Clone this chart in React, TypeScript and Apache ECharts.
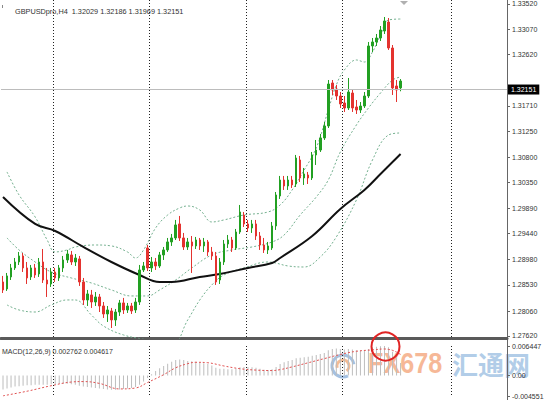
import React, { useEffect, useRef } from "react";
import * as echarts from "echarts";

const symbolName = "GBPUSDpro,H4";

const openP = [
  1.28580, 1.28455, 1.28669, 1.28829, 1.28935, 1.29042, 1.28829, 1.28669, 1.28829, 1.28722,
  1.28935, 1.28615, 1.28544, 1.28757, 1.28651, 1.28829, 1.28971, 1.29060, 1.28935, 1.28989,
  1.28580, 1.28260, 1.28349, 1.28224, 1.28313, 1.28153, 1.28011, 1.28064, 1.27905, 1.28046,
  1.28207, 1.28082, 1.28153, 1.28082, 1.28224, 1.28793, 1.29184, 1.28829, 1.28935, 1.28864,
  1.29060, 1.29149, 1.29291, 1.29362, 1.29611, 1.29362, 1.29202, 1.29291, 1.29220, 1.29326,
  1.29220, 1.29291, 1.29113, 1.29042, 1.28615, 1.28935, 1.29255, 1.29326, 1.29184, 1.29468,
  1.29770, 1.29611, 1.29539, 1.29611, 1.29397, 1.29237, 1.29149, 1.29184, 1.29575, 1.30108,
  1.30392, 1.30286, 1.30392, 1.30321, 1.30748, 1.30428, 1.30481, 1.30428, 1.30837, 1.30925,
  1.31139, 1.31352, 1.32116, 1.32009, 1.31885, 1.31761, 1.31672, 1.31938, 1.31690, 1.31636,
  1.31707, 1.31885, 1.32774, 1.32845, 1.32916, 1.33040, 1.33200, 1.32738, 1.32063, 1.32029,
];

const closeP = [
  1.28438, 1.28687, 1.28829, 1.28935, 1.29042, 1.28829, 1.28651, 1.28829, 1.28704, 1.28935,
  1.28615, 1.28544, 1.28757, 1.28651, 1.28829, 1.28971, 1.29077, 1.28935, 1.29006, 1.28580,
  1.28260, 1.28367, 1.28224, 1.28313, 1.28153, 1.28011, 1.28082, 1.27905, 1.28046, 1.28207,
  1.28082, 1.28153, 1.28064, 1.28224, 1.28793, 1.28864, 1.28829, 1.28935, 1.28864, 1.29060,
  1.29149, 1.29291, 1.29362, 1.29593, 1.29362, 1.29202, 1.29291, 1.29220, 1.29326, 1.29220,
  1.29291, 1.29113, 1.29042, 1.28580, 1.28935, 1.29255, 1.29326, 1.29184, 1.29468, 1.29824,
  1.29611, 1.29539, 1.29611, 1.29397, 1.29237, 1.29149, 1.29220, 1.29575, 1.30126, 1.30392,
  1.30286, 1.30392, 1.30304, 1.30783, 1.30428, 1.30499, 1.30428, 1.30837, 1.30925, 1.31139,
  1.31352, 1.32098, 1.31992, 1.31885, 1.31743, 1.31672, 1.31956, 1.31672, 1.31636, 1.31707,
  1.31885, 1.32774, 1.32845, 1.32916, 1.33058, 1.33218, 1.32738, 1.32027, 1.31992, 1.32151,
];

const highP = [
  1.28687, 1.28740, 1.28900, 1.29006, 1.29113, 1.29095, 1.28935, 1.28882, 1.28900, 1.29006,
  1.29166, 1.28829, 1.28829, 1.28829, 1.28882, 1.29042, 1.29149, 1.29131, 1.29077, 1.29042,
  1.28651, 1.28438, 1.28438, 1.28402, 1.28367, 1.28224, 1.28153, 1.28118, 1.28100, 1.28260,
  1.28296, 1.28207, 1.28207, 1.28296, 1.28882, 1.28935, 1.29237, 1.29024, 1.29006, 1.29113,
  1.29202, 1.29362, 1.29433, 1.29682, 1.29753, 1.29451, 1.29362, 1.29397, 1.29380, 1.29362,
  1.29362, 1.29326, 1.29202, 1.29113, 1.29006, 1.29326, 1.29415, 1.29380, 1.29522, 1.29948,
  1.29824, 1.29682, 1.29682, 1.29682, 1.29468, 1.29362, 1.29291, 1.29646, 1.30179, 1.30464,
  1.30464, 1.30464, 1.30464, 1.30837, 1.30819, 1.30606, 1.30535, 1.30890, 1.31103, 1.31210,
  1.31423, 1.32169, 1.32169, 1.32081, 1.31956, 1.31885, 1.32205, 1.31992, 1.31814, 1.31778,
  1.31956, 1.32845, 1.32916, 1.32987, 1.33129, 1.33289, 1.33271, 1.32791, 1.32169, 1.32186,
];

const lowP = [
  1.28384, 1.28420, 1.28615, 1.28793, 1.28882, 1.28757, 1.28544, 1.28615, 1.28651, 1.28669,
  1.28562, 1.28313, 1.28491, 1.28580, 1.28598, 1.28757, 1.28918, 1.28882, 1.28864, 1.28509,
  1.28171, 1.28153, 1.28118, 1.28153, 1.28046, 1.27940, 1.27869, 1.27762, 1.27798, 1.27976,
  1.28011, 1.28029, 1.28011, 1.28029, 1.28171, 1.28757, 1.28775, 1.28757, 1.28793, 1.28829,
  1.28971, 1.29113, 1.29220, 1.29326, 1.29308, 1.29149, 1.29149, 1.28740, 1.29166, 1.29149,
  1.29113, 1.29042, 1.28971, 1.28527, 1.28544, 1.28882, 1.29184, 1.29113, 1.29149, 1.29433,
  1.29557, 1.29468, 1.29451, 1.29326, 1.29149, 1.29095, 1.29077, 1.29149, 1.29504, 1.30055,
  1.30215, 1.30215, 1.30250, 1.30268, 1.30357, 1.30304, 1.30321, 1.30392, 1.30659, 1.30890,
  1.31103, 1.31316, 1.31903, 1.31814, 1.31672, 1.31601, 1.31636, 1.31601, 1.31565, 1.31583,
  1.31672, 1.31850, 1.32667, 1.32774, 1.32862, 1.32987, 1.32703, 1.31903, 1.31778, 1.31969,
];

// Moving average (sampled points: [bar index, price])
const maLine: [number, number][] = [
  [0, 1.3009], [8, 1.29611], [13, 1.29486], [20, 1.29202], [27, 1.28935], [34, 1.28704],
  [39, 1.2858], [42, 1.2858], [49, 1.28669], [54, 1.28722], [61, 1.28829], [67, 1.28918],
  [69, 1.29006], [77, 1.29397], [84, 1.29877], [90, 1.30215], [94, 1.30499], [99, 1.30854],
];

// Bollinger bands (sampled points)
const bbUpper: [number, number][] = [
  [1, 1.30535], [4, 1.30126], [8, 1.29735], [11, 1.29326], [13, 1.29113], [16, 1.29149],
  [18, 1.29202], [23, 1.29237], [27, 1.2922], [31, 1.29113], [33, 1.29006], [35, 1.29149],
  [38, 1.29539], [41, 1.2977], [44, 1.29895], [46, 1.2993], [49, 1.29859], [52, 1.29646],
  [55, 1.29682], [60, 1.2977], [66, 1.29824], [69, 1.29948], [72, 1.30215], [75, 1.3057],
  [78, 1.30961], [81, 1.31636], [83, 1.32081], [85, 1.32347], [88, 1.32525], [90, 1.32489],
  [92, 1.32667], [94, 1.32969], [96, 1.33236], [99, 1.33253],
];
const bbMiddle: [number, number][] = [
  [1, 1.29362], [4, 1.29149], [8, 1.28935], [12, 1.28757], [17, 1.28651], [22, 1.28562],
  [27, 1.28438], [32, 1.28331], [36, 1.28331], [39, 1.28438], [43, 1.28615], [47, 1.28829],
  [52, 1.2906], [57, 1.29149], [62, 1.29202], [67, 1.29291], [70, 1.29415], [74, 1.2977],
  [78, 1.3009], [81, 1.30392], [84, 1.3089], [88, 1.3137], [91, 1.31672], [94, 1.31938],
  [97, 1.32169], [99, 1.32223],
];
const bbLower: [number, number][] = [
  [1, 1.28171], [4, 1.28082], [8, 1.28046], [12, 1.28171], [16, 1.2826], [18, 1.2826],
  [22, 1.27993], [25, 1.27798], [30, 1.27638], [36, 1.27549], [42, 1.2746], [46, 1.27905],
  [49, 1.2826], [52, 1.28527], [55, 1.28704], [60, 1.28829], [66, 1.28935], [71, 1.28864],
  [75, 1.28846], [79, 1.29024], [83, 1.2938], [88, 1.30037], [92, 1.30748], [96, 1.31192],
  [99, 1.31228],
];

const macdMain = [
  -0.0030, -0.0028, -0.0026, -0.0024, -0.0023, -0.0022, -0.0021, -0.0021, -0.0020, -0.0020,
  -0.0020, -0.0020, -0.0019, -0.0019, -0.0018, -0.0018, -0.0018, -0.0019, -0.0020, -0.0022,
  -0.0024, -0.0025, -0.0026, -0.0027, -0.0028, -0.0029, -0.0030, -0.0031, -0.0031, -0.0030,
  -0.0029, -0.0028, -0.0027, -0.0025, -0.0020, -0.0013, -0.0005, 0.0003, 0.0010, 0.0016,
  0.0021, 0.0026, 0.0030, 0.0034, 0.0035, 0.0034, 0.0032, 0.0031, 0.0030, 0.0029,
  0.0027, 0.0025, 0.0022, 0.0017, 0.0015, 0.0015, 0.0014, 0.0014, 0.0015, 0.0018,
  0.0019, 0.0019, 0.0018, 0.0017, 0.0015, 0.0013, 0.0012, 0.0014, 0.0019, 0.0025,
  0.0029, 0.0032, 0.0034, 0.0038, 0.0039, 0.0040, 0.0041, 0.0043, 0.0045, 0.0047,
  0.0049, 0.0055, 0.0058, 0.0059, 0.0058, 0.0057, 0.0058, 0.0057, 0.0055, 0.0054,
  0.0054, 0.0058, 0.0061, 0.0063, 0.0064, 0.00645, 0.0062, 0.0052, 0.0040, 0.002762,
];
const macdSignal: [number, number][] = [
  [0, -0.0044], [6, -0.0034], [12, -0.0022], [17, -0.0014], [20, -0.0013], [24, -0.0017],
  [29, -0.0029], [33, -0.0027], [36, -0.0015], [40, 0.0002], [43, 0.0017], [46, 0.0026],
  [48, 0.0029], [51, 0.0028], [55, 0.0021], [59, 0.0015], [63, 0.0012], [67, 0.0011],
  [69, 0.0013], [72, 0.0019], [76, 0.0028], [80, 0.0037], [84, 0.0046], [88, 0.0053],
  [92, 0.0056], [95, 0.0058], [96, 0.0057], [97, 0.0055], [98, 0.0051], [99, 0.004617],
];

const priceTicks = [1.3352, 1.3307, 1.3262, 1.3171, 1.3125, 1.308, 1.3035, 1.2989, 1.2944, 1.2898, 1.2853, 1.2806, 1.2762];
const macdTicks = [0.006447, 0, -0.004551];
const gridLineIdx = [13, 37, 61, 85, 112];
const categories = Array.from({ length: 126 }, (_, i) => String(i));

const FONT = '"Liberation Sans", Arial, sans-serif';

export default function App() {
  const ref = useRef<HTMLDivElement>(null);
  useEffect(() => {
    const chart = echarts.init(ref.current!, null, { renderer: "svg" });
    const n = closeP.length;
    const candles = closeP.map((c, i) => [openP[i], c, lowP[i], highP[i]]);
    const last = n - 1;
    const headText = `${symbolName}  ${openP[last].toFixed(5)} ${highP[last].toFixed(5)} ${lowP[last].toFixed(5)} ${closeP[last].toFixed(5)}`;
    const macdText = `MACD(12,26,9) ${macdMain[last].toFixed(6)} ${macdSignal[macdSignal.length - 1][1].toFixed(6)}`;
    const splitLine = {
      show: true,
      interval: (idx: number) => gridLineIdx.includes(idx),
      lineStyle: { color: "#222", type: [1, 2], width: 1 },
    };
    const bandStyle = { color: "#74b08f", type: [2, 2], width: 1 };
    const option: any = {
      animation: false,
      backgroundColor: "#ffffff",
      textStyle: { fontFamily: FONT },
      title: [
        { text: headText, left: 10, top: 3, textStyle: { fontSize: 7.3, fontWeight: "normal", color: "#333", fontFamily: FONT } },
        { text: macdText, left: -3, top: 343, textStyle: { fontSize: 7, fontWeight: "normal", color: "#333", fontFamily: FONT } },
      ],
      grid: [
        { left: 1, right: 43, top: 0, height: 338 },
        { left: 1, right: 43, top: 346, height: 52 },
      ],
      xAxis: [
        {
          type: "category", gridIndex: 0, data: categories, boundaryGap: true,
          axisLine: { show: true, onZero: false, lineStyle: { color: "#5a5a5a", width: 3 } },
          axisTick: { show: false }, axisLabel: { show: false }, splitLine,
        },
        {
          type: "category", gridIndex: 1, data: categories, boundaryGap: true,
          axisLine: { show: false }, axisTick: { show: false }, axisLabel: { show: false }, splitLine,
        },
      ],
      yAxis: [
        {
          type: "value", gridIndex: 0, position: "right", min: 1.27584, max: 1.33591, scale: true,
          axisLine: { show: true, lineStyle: { color: "#666", width: 1 } },
          axisTick: { show: true, length: 3, customValues: priceTicks, lineStyle: { color: "#666" } },
          axisLabel: { customValues: priceTicks, formatter: (v: number) => v.toFixed(5), fontSize: 7, color: "#333", margin: 5, fontFamily: FONT },
          splitLine: { show: false },
        },
        {
          type: "value", gridIndex: 1, position: "right", min: -0.004551, max: 0.006447,
          axisLine: { show: true, lineStyle: { color: "#666", width: 1 } },
          axisTick: { show: true, length: 3, customValues: macdTicks, lineStyle: { color: "#666" } },
          axisLabel: { customValues: macdTicks, formatter: (v: number) => (v === 0 ? "0.00" : v.toFixed(6)), fontSize: 7, color: "#333", margin: 5, fontFamily: FONT },
          splitLine: { show: false },
        },
      ],
      series: [
        {
          type: "line", xAxisIndex: 0, yAxisIndex: 0, data: bbUpper, smooth: 0.4, symbol: "none",
          lineStyle: bandStyle, z: 2, silent: true,
        },
        {
          type: "line", xAxisIndex: 0, yAxisIndex: 0, data: bbMiddle, smooth: 0.4, symbol: "none",
          lineStyle: bandStyle, z: 2, silent: true,
        },
        {
          type: "line", xAxisIndex: 0, yAxisIndex: 0, data: bbLower, smooth: 0.4, symbol: "none",
          lineStyle: bandStyle, z: 2, silent: true,
        },
        {
          type: "line", xAxisIndex: 0, yAxisIndex: 0, data: maLine, smooth: 0.4, symbol: "none",
          lineStyle: { color: "#111", width: 2 }, z: 3, silent: true,
        },
        {
          type: "candlestick", xAxisIndex: 0, yAxisIndex: 0, data: candles, barWidth: 2, z: 4,
          itemStyle: { color: "#22a022", color0: "#e4332f", borderColor: "#22a022", borderColor0: "#e4332f", borderWidth: 1 },
          markLine: {
            silent: true, symbol: "none",
            data: [{ yAxis: closeP[last] }],
            lineStyle: { color: "#bcbcbc", type: "solid", width: 1 },
            label: {
              position: "end", distance: 1, formatter: () => closeP[last].toFixed(5),
              backgroundColor: "#000", color: "#fff", fontSize: 7, padding: [2, 3, 1, 3], fontFamily: FONT,
            },
          },
        },
        {
          type: "bar", xAxisIndex: 1, yAxisIndex: 1, data: macdMain, barWidth: 1,
          itemStyle: { color: "#bdbdbd" }, silent: true,
        },
        {
          type: "line", xAxisIndex: 1, yAxisIndex: 1, data: macdSignal, smooth: 0.4, symbol: "none",
          lineStyle: { color: "#e05050", type: [2, 2], width: 1 }, silent: true, z: 3,
        },
      ],
      graphic: [
        { type: "rect", shape: { x: 2, y: 5, width: 1, height: 3 }, style: { fill: "#888" } },
        { type: "polygon", shape: { points: [[400, 1], [408, 1], [404, 5]] }, style: { fill: "#b0b0b0" } },
        { type: "line", shape: { x1: 507.5, y1: 338, x2: 507.5, y2: 400 }, style: { stroke: "#666", lineWidth: 1 } },
        {
          type: "group", z: 100, silent: true,
          children: [
            { type: "arc", shape: { cx: 343, cy: 366, r: 11, startAngle: Math.PI * 0.35, endAngle: Math.PI * 1.95 }, style: { stroke: "#86acd8", lineWidth: 3, fill: "none", opacity: 0.75 } },
            { type: "arc", shape: { cx: 343, cy: 366, r: 6, startAngle: Math.PI * 0.9, endAngle: Math.PI * 2.3 }, style: { stroke: "#f1a46f", lineWidth: 3, fill: "none", opacity: 0.75 } },
            { type: "text", x: 368, y: 363, scaleX: 0.84, style: { text: "FX678", font: 'bold 30px "Liberation Sans", Arial', fill: "#f4a57a", opacity: 0.78, verticalAlign: "middle", align: "left" } },
            { type: "text", x: 452, y: 363, style: { text: "汇通网", font: 'bold 26px "Noto Sans CJK SC"', fill: "#9dbfe2", opacity: 0.8, verticalAlign: "middle", align: "left" } },
          ],
        },
        { type: "circle", z: 101, shape: { cx: 385.5, cy: 346.5, r: 14 }, style: { stroke: "#e02424", lineWidth: 2, fill: "none" } },
      ],
    };
    chart.setOption(option);
    return () => chart.dispose();
  }, []);
  return <div ref={ref} style={{ position: "absolute", left: 0, top: 0, width: 550, height: 400 }} />;
}
